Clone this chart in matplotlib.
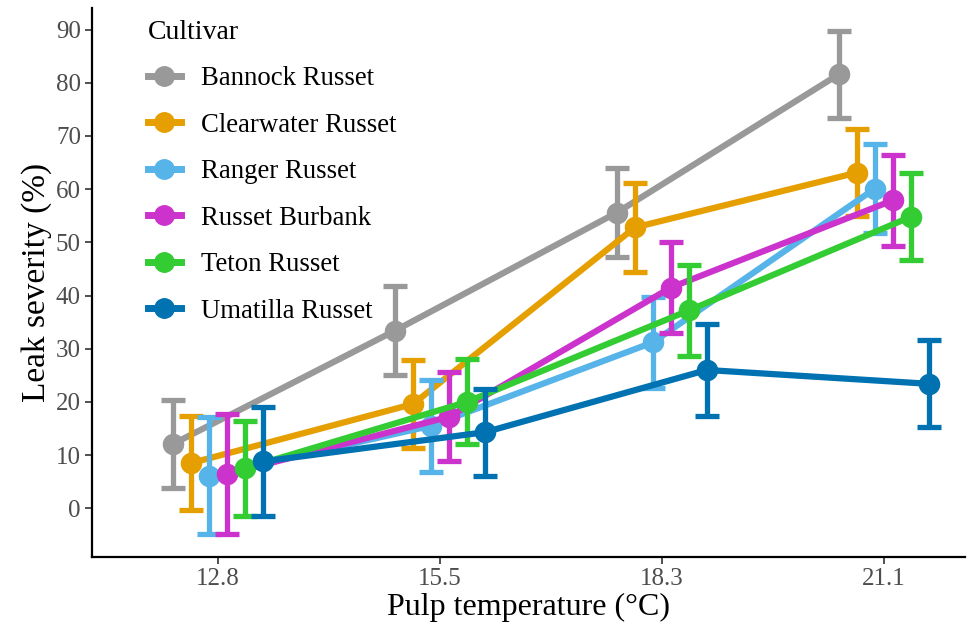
import numpy as np
import matplotlib.pyplot as plt
from matplotlib.lines import Line2D

temps = ["12.8", "15.5", "18.3", "21.1"]
cultivars = ["Bannock Russet", "Clearwater Russet", "Ranger Russet",
             "Russet Burbank", "Teton Russet", "Umatilla Russet"]
colors = ["#999999", "#E69F00", "#56B4E9", "#CC33CC", "#33CC33", "#0072B2"]

# mean leak severity (%) per cultivar at each pulp temperature
severity = {
    "Bannock Russet":    [12.1, 33.4, 55.6, 81.6],
    "Clearwater Russet": [8.5, 19.6, 52.8, 63.1],
    "Ranger Russet":     [6.1, 15.5, 31.2, 60.1],
    "Russet Burbank":    [6.4, 17.2, 41.5, 57.9],
    "Teton Russet":      [7.5, 20.0, 37.2, 54.8],
    "Umatilla Russet":   [8.8, 14.3, 26.0, 23.4],
}
# standard errors
se = {
    "Bannock Russet":    [8.2, 8.4, 8.4, 8.2],
    "Clearwater Russet": [8.8, 8.2, 8.3, 8.2],
    "Ranger Russet":     [11.0, 8.7, 8.6, 8.3],
    "Russet Burbank":    [11.3, 8.4, 8.5, 8.5],
    "Teton Russet":      [9.0, 8.0, 8.6, 8.2],
    "Umatilla Russet":   [10.2, 8.2, 8.7, 8.2],
}

plt.rcParams["font.family"] = ["Liberation Serif", "DejaVu Serif"]

fig = plt.figure(figsize=(9.73, 6.39), dpi=100)
ax = fig.add_axes([0.0946, 0.128, 0.897, 0.859])

x = np.arange(1, len(temps) + 1)
step = 0.081
handles = []
for i, name in enumerate(cultivars):
    xs = x + (i - 2.5) * step
    ax.errorbar(xs, severity[name], yerr=se[name], color=colors[i],
                lw=4.5, elinewidth=3.8, capsize=8.5, capthick=3.8,
                marker="o", ms=14.5, zorder=2 + i)
    handles.append(Line2D([], [], color=colors[i], lw=5, marker="o",
                          ms=14, label=name))

ax.set_xlim(0.432, 4.365)
ax.set_ylim(-9.2, 94)
ax.set_xticks(x)
ax.set_xticklabels(temps)
ax.set_yticks(np.arange(0, 91, 10))
ax.tick_params(labelsize=18, labelcolor="#4D4D4D", color="#333333",
               length=5, width=1.2, pad=3)
ax.set_xlabel("Pulp temperature (\u00b0C)", fontsize=23, labelpad=2)
ax.set_ylabel("Leak severity (%)", fontsize=24, labelpad=3)

for side in ["top", "right"]:
    ax.spines[side].set_visible(False)
for side in ["left", "bottom"]:
    ax.spines[side].set_linewidth(1.6)
    ax.spines[side].set_color("black")

ax.legend(handles=handles, title="Cultivar", loc="upper left",
          bbox_to_anchor=(0.039, 1.018), frameon=False, fontsize=19.3,
          title_fontsize=20, handlelength=1.25, handletextpad=0.75,
          labelspacing=0.8, borderpad=0.3, alignment="left")

fig.savefig("out.png", dpi=100)
